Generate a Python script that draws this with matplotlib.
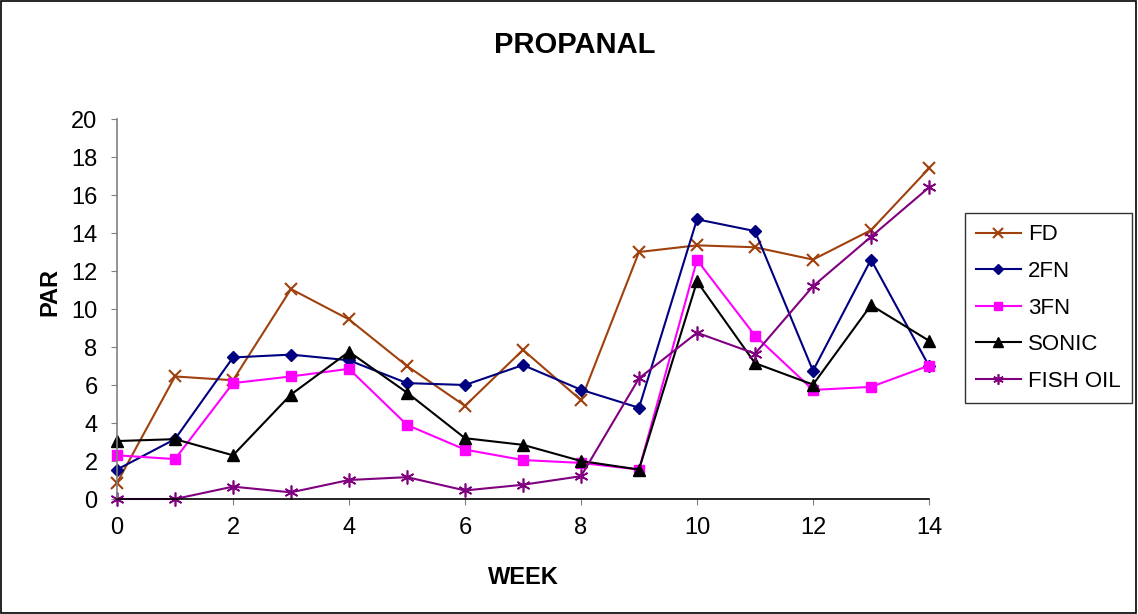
import matplotlib
matplotlib.use("Agg")
import matplotlib.pyplot as plt
from matplotlib.patches import Rectangle

plt.rcParams["font.family"] = ["Liberation Sans", "DejaVu Sans"]

weeks = list(range(15))

fd = [0.85, 6.45, 6.25, 11.05, 9.45, 7.0, 4.9, 7.85, 5.2, 13.0, 13.35, 13.25, 12.6, 14.15, 17.4]
fn2 = [1.55, 3.15, 7.45, 7.6, 7.3, 6.1, 6.0, 7.05, 5.75, 4.8, 14.72, 14.1, 6.75, 12.6, 7.0]
fn3 = [2.3, 2.1, 6.1, 6.45, 6.85, 3.9, 2.6, 2.05, 1.9, 1.55, 12.58, 8.6, 5.74, 5.9, 7.02]
sonic = [3.05, 3.15, 2.3, 5.5, 7.75, 5.6, 3.2, 2.85, 2.0, 1.55, 11.45, 7.15, 6.02, 10.2, 8.33]
fish_oil = [0.0, 0.0, 0.65, 0.35, 1.0, 1.15, 0.45, 0.75, 1.2, 6.35, 8.75, 7.65, 11.2, 13.8, 16.4]

# name, values, colour, marker, marker size, marker edge width
series = [
    ("FD", fd, "#a0410d", "x", 9, 1.5),
    ("2FN", fn2, "#000080", "D", 6.5, 1),
    ("3FN", fn3, "#ff00ff", "s", 7.5, 1),
    ("SONIC", sonic, "#000000", "^", 9, 1),
    ("FISH OIL", fish_oil, "#800080", (6, 2, 0), 10, 1.2),
]

fig = plt.figure(figsize=(11.38, 6.14), dpi=100)
ax = fig.add_axes([117 / 1138, 1 - 499 / 614, (929 - 117) / 1138, (499 - 119) / 614])

for name, vals, color, marker, ms, mew in series:
    ax.plot(weeks, vals, color=color, marker=marker, markersize=ms,
            linewidth=1.5, markeredgewidth=mew, label=name, clip_on=False)

ax.set_xlim(0, 14)
ax.set_ylim(0, 20)
ax.set_xticks(range(0, 15, 2))
ax.set_yticks(range(0, 21, 2))
ax.tick_params(direction="out", length=4, color="#808080", labelsize=17)
ax.tick_params(axis="x", pad=9)
ax.tick_params(axis="y", pad=10)
for side in ("top", "right"):
    ax.spines[side].set_visible(False)
for side in ("left", "bottom"):
    ax.spines[side].set_color("#808080")
    ax.spines[side].set_linewidth(1.2)
ax.spines["bottom"].set_color("black")

fig.text(575 / 1138, 1 - 45 / 614, "PROPANAL", ha="center", va="center",
         fontsize=21, fontweight="bold")
fig.text(523 / 1138, 1 - 577 / 614, "WEEK", ha="center", va="center",
         fontsize=17, fontweight="bold")
fig.text(50 / 1138, 1 - 292 / 614, "PAR", ha="center", va="center",
         fontsize=17, fontweight="bold", rotation=90)

leg = fig.legend(loc="center left", bbox_to_anchor=(965 / 1138, 1 - 308 / 614),
                 fontsize=16, frameon=True, fancybox=False, handlelength=2.0,
                 labelspacing=0.7, borderpad=0.5, handletextpad=0.35,
                 borderaxespad=0)
leg.get_frame().set_edgecolor("black")
leg.get_frame().set_linewidth(1.0)
for h in leg.legend_handles:
    h.set_markersize(h.get_markersize() * 0.75)

fig.patches.append(Rectangle((0.001, 0.002), 0.997, 0.996, transform=fig.transFigure,
                             fill=False, edgecolor="black", linewidth=1.2))

fig.savefig("out.png", dpi=100)
